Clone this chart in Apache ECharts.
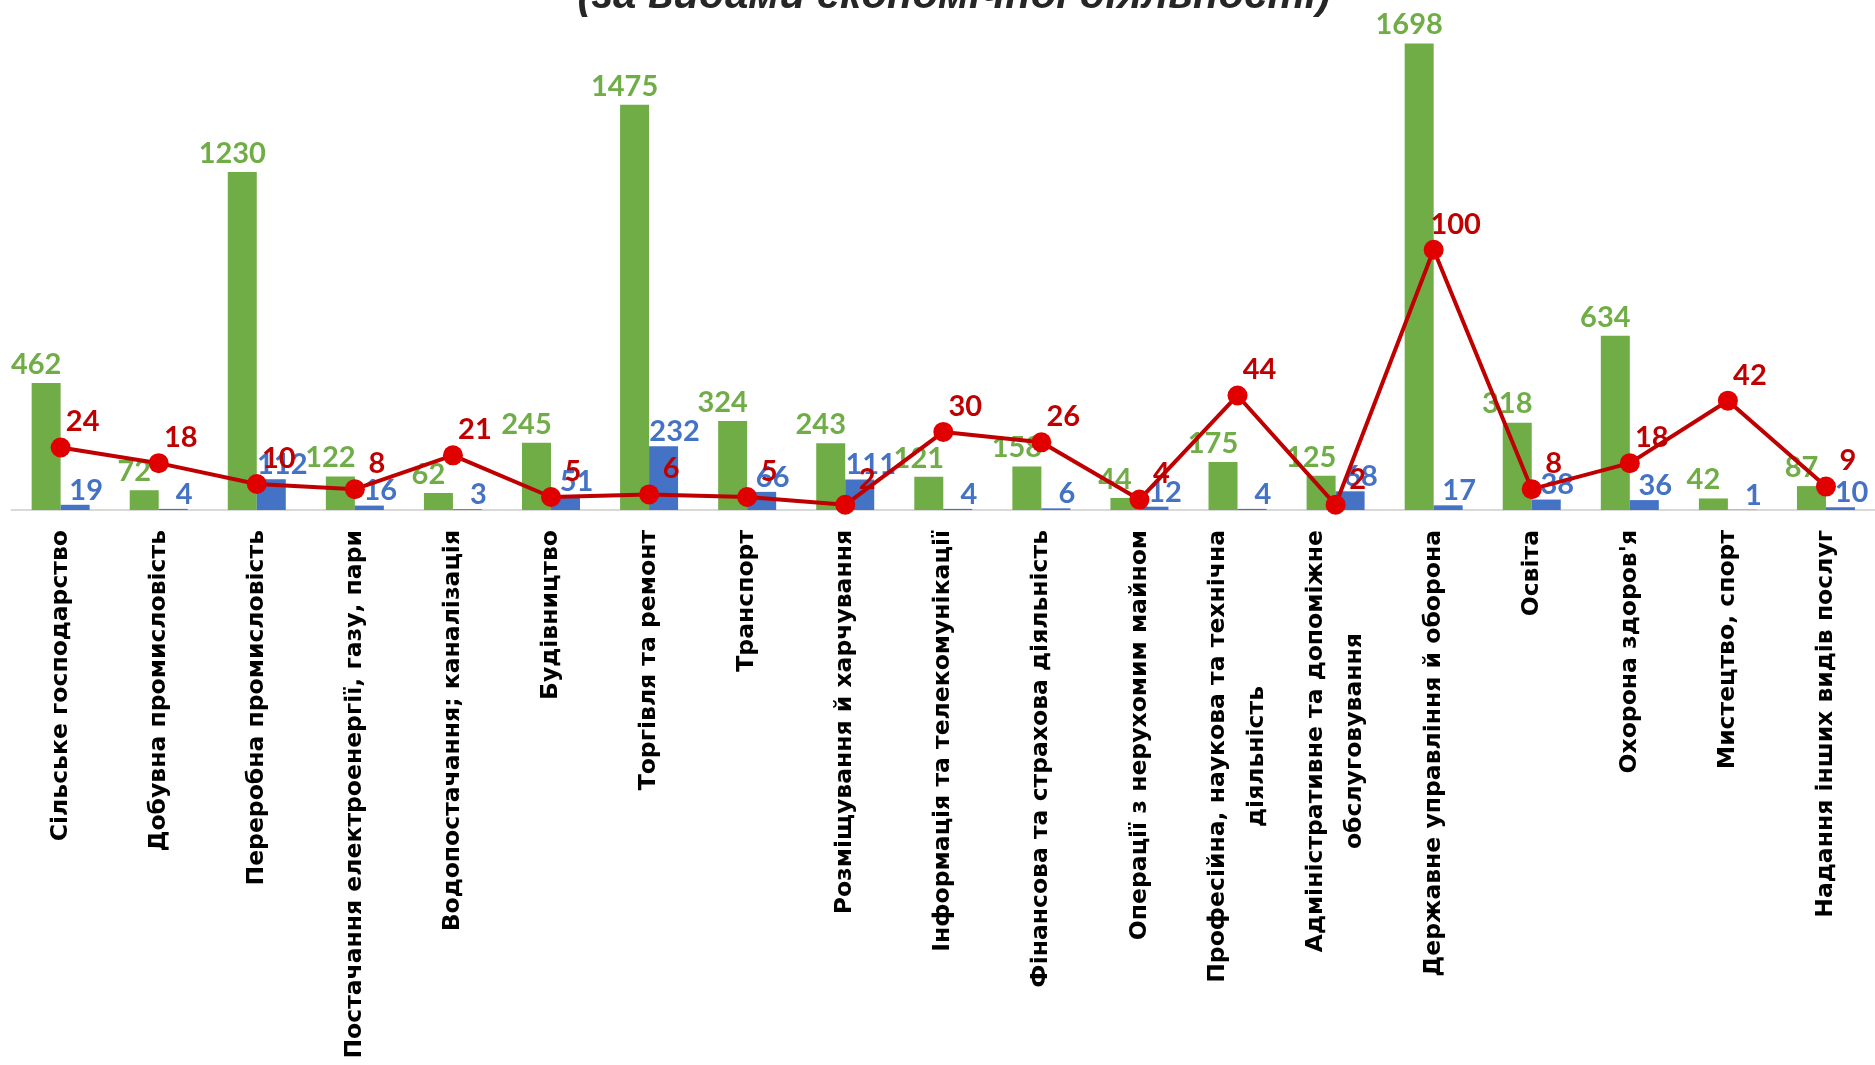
<!DOCTYPE html>
<html>
<head>
<meta charset="utf-8">
<script src="https://cdn.jsdelivr.net/npm/echarts@6/dist/echarts.min.js"></script>
<style>
  html, body { margin: 0; padding: 0; background: #fff; }
  #chart { width: 1875px; height: 1065px; }
</style>
</head>
<body>
<div id="chart"></div>
<script>
const titleText = '(за видами економічної діяльності)';

const categories = [
  'Сільське господарство',
  'Добувна промисловість',
  'Переробна промисловість',
  'Постачання електроенергії, газу, пари',
  'Водопостачання; каналізація',
  'Будівництво',
  'Торгівля та ремонт',
  'Транспорт',
  'Розміщування й харчування',
  'Інформація та телекомунікації',
  'Фінансова та страхова діяльність',
  'Операції з нерухомим майном',
  'Професійна, наукова та технічна\nдіяльність',
  'Адміністративне та допоміжне\nобслуговування',
  'Державне управління й оборона',
  'Освіта',
  "Охорона здоров'я",
  'Мистецтво, спорт',
  'Надання інших видів послуг'
];

const greenValues = [462, 72, 1230, 122, 62, 245, 1475, 324, 243, 121, 158, 44, 175, 125, 1698, 318, 634, 42, 87];
const blueValues  = [19, 4, 112, 16, 3, 51, 232, 66, 111, 4, 6, 12, 4, 68, 17, 38, 36, 1, 10];
const redValues   = [24, 18, 10, 8, 21, 5, 6, 5, 2, 30, 26, 4, 44, 2, 100, 8, 18, 42, 9];

const chart = echarts.init(document.getElementById('chart'), null, { renderer: 'canvas' });

const numFont = { fontFamily: 'Lato', fontWeight: 'bold', fontSize: 29 };

const option = {
  backgroundColor: '#ffffff',
  animation: false,
  graphic: [{
    type: 'text',
    x: 954,
    y: -4,
    style: {
      text: titleText,
      font: 'italic bold 42px "Liberation Sans"',
      fill: '#262626',
      align: 'center',
      verticalAlign: 'middle'
    }
  }],
  grid: {
    left: 11.6,
    width: 1867,
    top: 15.5,
    height: 494.5,
    containLabel: false
  },
  xAxis: {
    type: 'category',
    data: categories,
    axisTick: { show: false },
    axisLine: { show: true, lineStyle: { color: '#D9D9D9', width: 2 } },
    axisLabel: {
      interval: 0,
      rotate: 90,
      margin: 20,
      color: '#000000',
      formatter: function (v) {
        return v.split('\n').map(function (s) { return '{c|' + s + '}'; }).join('\n');
      },
      rich: {
        c: {
          align: 'center',
          fontFamily: 'DejaVu Sans',
          fontWeight: 'bold',
          fontSize: 23.5,
          lineHeight: 39,
          color: '#000000'
        }
      }
    }
  },
  yAxis: [
    { type: 'value', min: 0, max: 1800, show: false, splitLine: { show: false } },
    { type: 'value', min: 0, max: 190, show: false, splitLine: { show: false } }
  ],
  series: [
    {
      name: 'green',
      type: 'bar',
      data: greenValues,
      barWidth: 29,
      barGap: '0%',
      itemStyle: { color: '#70AD47' },
      label: {
        show: true,
        position: 'top',
        distance: 4,
        offset: [-10, 0],
        color: '#70AD47',
        ...numFont
      },
      z: 2
    },
    {
      name: 'blue',
      type: 'bar',
      data: blueValues,
      barWidth: 29,
      barGap: '0%',
      itemStyle: { color: '#4472C4' },
      label: {
        show: true,
        position: 'top',
        distance: 0,
        offset: [11, 0],
        color: '#4472C4',
        ...numFont
      },
      z: 2
    },
    {
      name: 'red',
      type: 'line',
      yAxisIndex: 1,
      data: redValues,
      symbol: 'circle',
      symbolSize: 20,
      lineStyle: { color: '#C00000', width: 4 },
      itemStyle: { color: '#E00000' },
      label: {
        show: true,
        position: 'top',
        distance: 1,
        offset: [22, 0],
        color: '#C00000',
        ...numFont
      },
      z: 5
    }
  ]
};

chart.setOption(option);
</script>
</body>
</html>
